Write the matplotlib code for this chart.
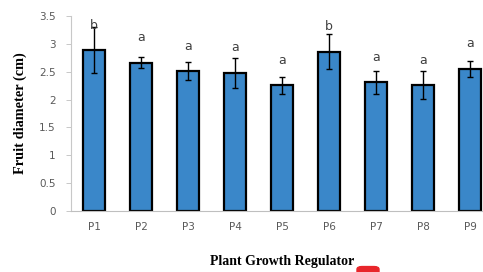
import numpy as np
import matplotlib.pyplot as plt
from matplotlib.patches import FancyBboxPatch

categories = ["P1", "P2", "P3", "P4", "P5", "P6", "P7", "P8", "P9"]
values = [2.89, 2.66, 2.51, 2.48, 2.26, 2.86, 2.31, 2.26, 2.55]
errors = [0.41, 0.10, 0.16, 0.27, 0.15, 0.31, 0.20, 0.25, 0.15]
letters = ["b", "a", "a", "a", "a", "b", "a", "a", "a"]
yticks = [0, 0.5, 1, 1.5, 2, 2.5, 3, 3.5]
ytick_labels = ["0", "0.5", "1", "1.5", "2", "2.5", "3", "3.5"]

fig = plt.figure(figsize=(4.83, 2.72), dpi=100)
ax = fig.add_axes([0.146, 0.224, 0.876, 0.717])

x = np.arange(len(categories))
ax.bar(x, values, width=0.47, color="#3a87c9", edgecolor="black", linewidth=1.6, zorder=2)
ax.errorbar(x, values, yerr=errors, fmt="none", ecolor="black", elinewidth=1.0,
            capsize=2.5, capthick=1.0, zorder=3)

for xi, v, lab in zip(x, values, letters):
    ax.annotate(lab, (xi, v), xytext=(0, 18), textcoords="offset points",
                ha="center", va="center", fontsize=9, color="#404040",
                family="DejaVu Sans")

ax.set_xlim(-0.5, len(categories) - 0.5)
ax.set_ylim(0, 3.5)
ax.set_xticks(x)
ax.set_xticklabels(categories)
ax.set_yticks(yticks)
ax.set_yticklabels(ytick_labels)

for s in ["top", "right"]:
    ax.spines[s].set_visible(False)
ax.spines["left"].set_color("#c8c8c8")
ax.spines["bottom"].set_color("#bfbfbf")
ax.spines["left"].set_linewidth(0.8)
ax.spines["bottom"].set_linewidth(0.8)

ax.tick_params(axis="x", length=0, pad=8, labelsize=7.5, labelcolor="#595959")
ax.tick_params(axis="y", length=3.5, width=0.7, color="#c8c8c8", pad=7,
               labelsize=7.5, labelcolor="#595959")

ax.set_ylabel("Fruit diameter (cm)", family="Liberation Serif", fontweight="bold",
              fontsize=10.3)
ax.yaxis.set_label_coords(-0.103, 0.5)
ax.set_xlabel("Plant Growth Regulator", family="Liberation Serif", fontweight="bold",
              fontsize=10)
ax.xaxis.set_label_coords(0.5, -0.225)

# small red marker cut off at the bottom edge
fig.patches.append(FancyBboxPatch((357 / 483, -0.02), 22 / 483, 0.04,
                                  boxstyle="round,pad=0,rounding_size=0.01",
                                  transform=fig.transFigure, color="#e8262b",
                                  figure=fig))

fig.savefig("out.png", dpi=100)
